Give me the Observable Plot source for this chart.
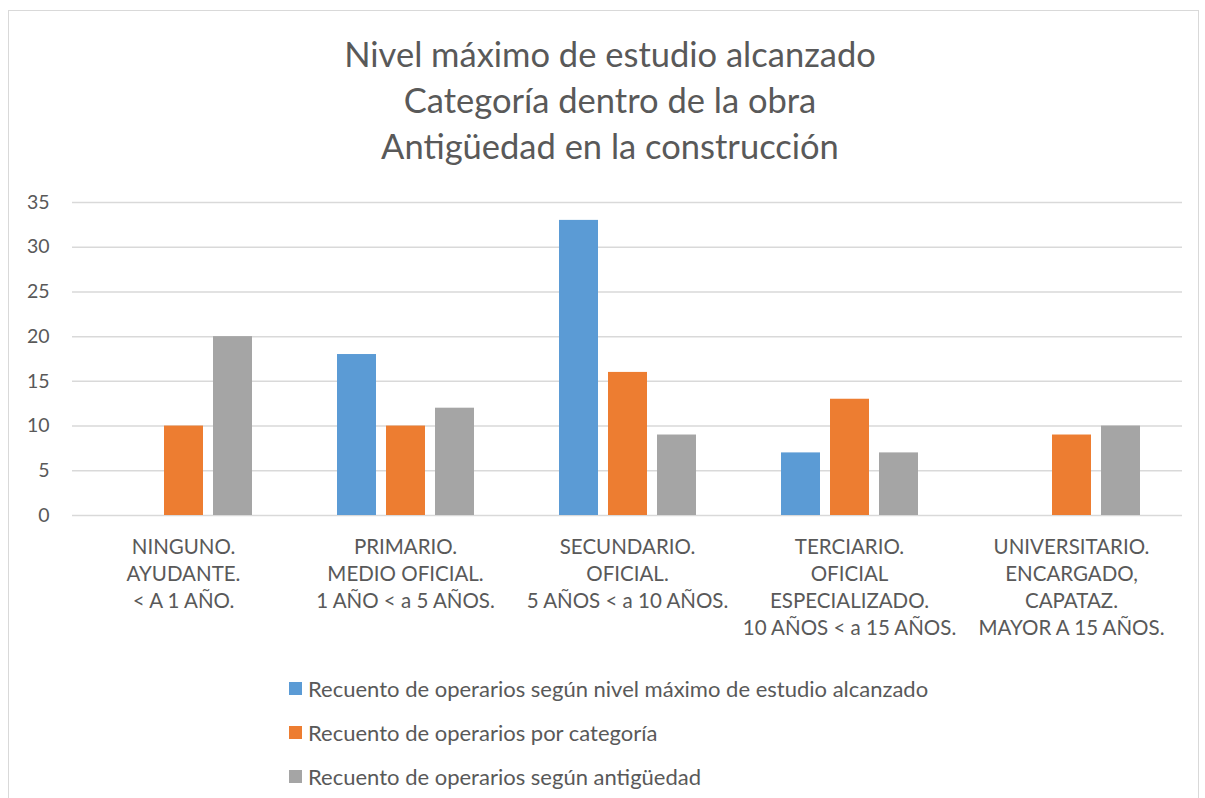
<!DOCTYPE html>
<html>
<head>
<meta charset="utf-8">
<script src="https://cdn.jsdelivr.net/npm/d3@7"></script>
<script src="https://cdn.jsdelivr.net/npm/@observablehq/plot@0.6"></script>
<style>
  html, body { margin: 0; padding: 0; background: #fff; }
  body { width: 1205px; height: 798px; position: relative; overflow: hidden; font-family: Lato, "Open Sans", sans-serif; color: #595959; }
  #frame { position: absolute; left: 8px; top: 10px; width: 1191px; height: 800px; border: 1px solid #d9d9d9; box-sizing: border-box; }
  #title { position: absolute; left: 0; top: 31px; width: 1220px; text-align: center; font-size: 34.5px; line-height: 46px; color: #595959; }
  #chart { position: absolute; left: 0; top: 180px; }
  #legend { position: absolute; left: 289px; top: 666px; font-size: 22px; }
  .item { display: flex; align-items: center; height: 44px; }
  .sw { width: 13px; height: 13px; margin-right: 6px; }
</style>
</head>
<body>
<div id="frame"></div>
<div id="title"></div>
<div id="chart"></div>
<div id="legend"></div>
<script>
const titleLines = ["Nivel máximo de estudio alcanzado", "Categoría dentro de la obra", "Antigüedad en la construcción"];
const categories = [
  "NINGUNO.\nAYUDANTE.\n< A 1 AÑO.",
  "PRIMARIO.\nMEDIO OFICIAL.\n1 AÑO < a 5 AÑOS.",
  "SECUNDARIO.\nOFICIAL.\n5 AÑOS < a 10 AÑOS.",
  "TERCIARIO.\nOFICIAL\nESPECIALIZADO.\n10 AÑOS < a 15 AÑOS.",
  "UNIVERSITARIO.\nENCARGADO,\nCAPATAZ.\nMAYOR A 15 AÑOS."
];
const seriesNames = [
  "Recuento de operarios según nivel máximo de estudio alcanzado",
  "Recuento de operarios por categoría",
  "Recuento de operarios según antigüedad"
];
const seriesColors = ["#5b9bd5", "#ed7d31", "#a5a5a5"];
const estudio = [0, 18, 33, 7, 0];
const categoria = [10, 10, 16, 13, 9];
const antiguedad = [20, 12, 9, 7, 10];
const yTicks = [0, 5, 10, 15, 20, 25, 30, 35];

const allValues = [estudio, categoria, antiguedad];
const data = [];
categories.forEach((c, i) => {
  seriesNames.forEach((s, j) => data.push({cat: c, series: s, value: allValues[j][i]}));
});

document.getElementById("title").innerHTML = titleLines.map(t => `<div>${t}</div>`).join("");

const chart = Plot.plot({
  width: 1205,
  height: 480,
  marginTop: 22,
  marginBottom: 145,
  marginLeft: 71,
  marginRight: 22,
  style: {fontFamily: "Lato, 'Open Sans', sans-serif", fontSize: "19px", color: "#595959", background: "transparent"},
  fx: {domain: categories, padding: 0},
  x: {domain: seriesNames, paddingInner: 0.21, paddingOuter: 0.85, axis: null},
  y: {domain: [0, 35]},
  color: {domain: seriesNames, range: seriesColors},
  marks: [
    Plot.gridY(yTicks, {stroke: "#d9d9d9", strokeOpacity: 1, strokeWidth: 1.5}),
    Plot.barY(data, {fx: "cat", x: "series", y: "value", fill: "series"}),
    Plot.axisY(yTicks, {tickSize: 0, tickPadding: 23, fontSize: 19.5, label: null}),
    Plot.axisFx({anchor: "bottom", tickSize: 0, tickPadding: 19, fontSize: 20.5, lineHeight: 1.32, label: null})
  ]
});
document.getElementById("chart").appendChild(chart);

document.getElementById("legend").innerHTML = seriesNames.map((s, i) =>
  `<div class="item"><div class="sw" style="background:${seriesColors[i]}"></div><span>${s}</span></div>`).join("");
</script>
</body>
</html>
